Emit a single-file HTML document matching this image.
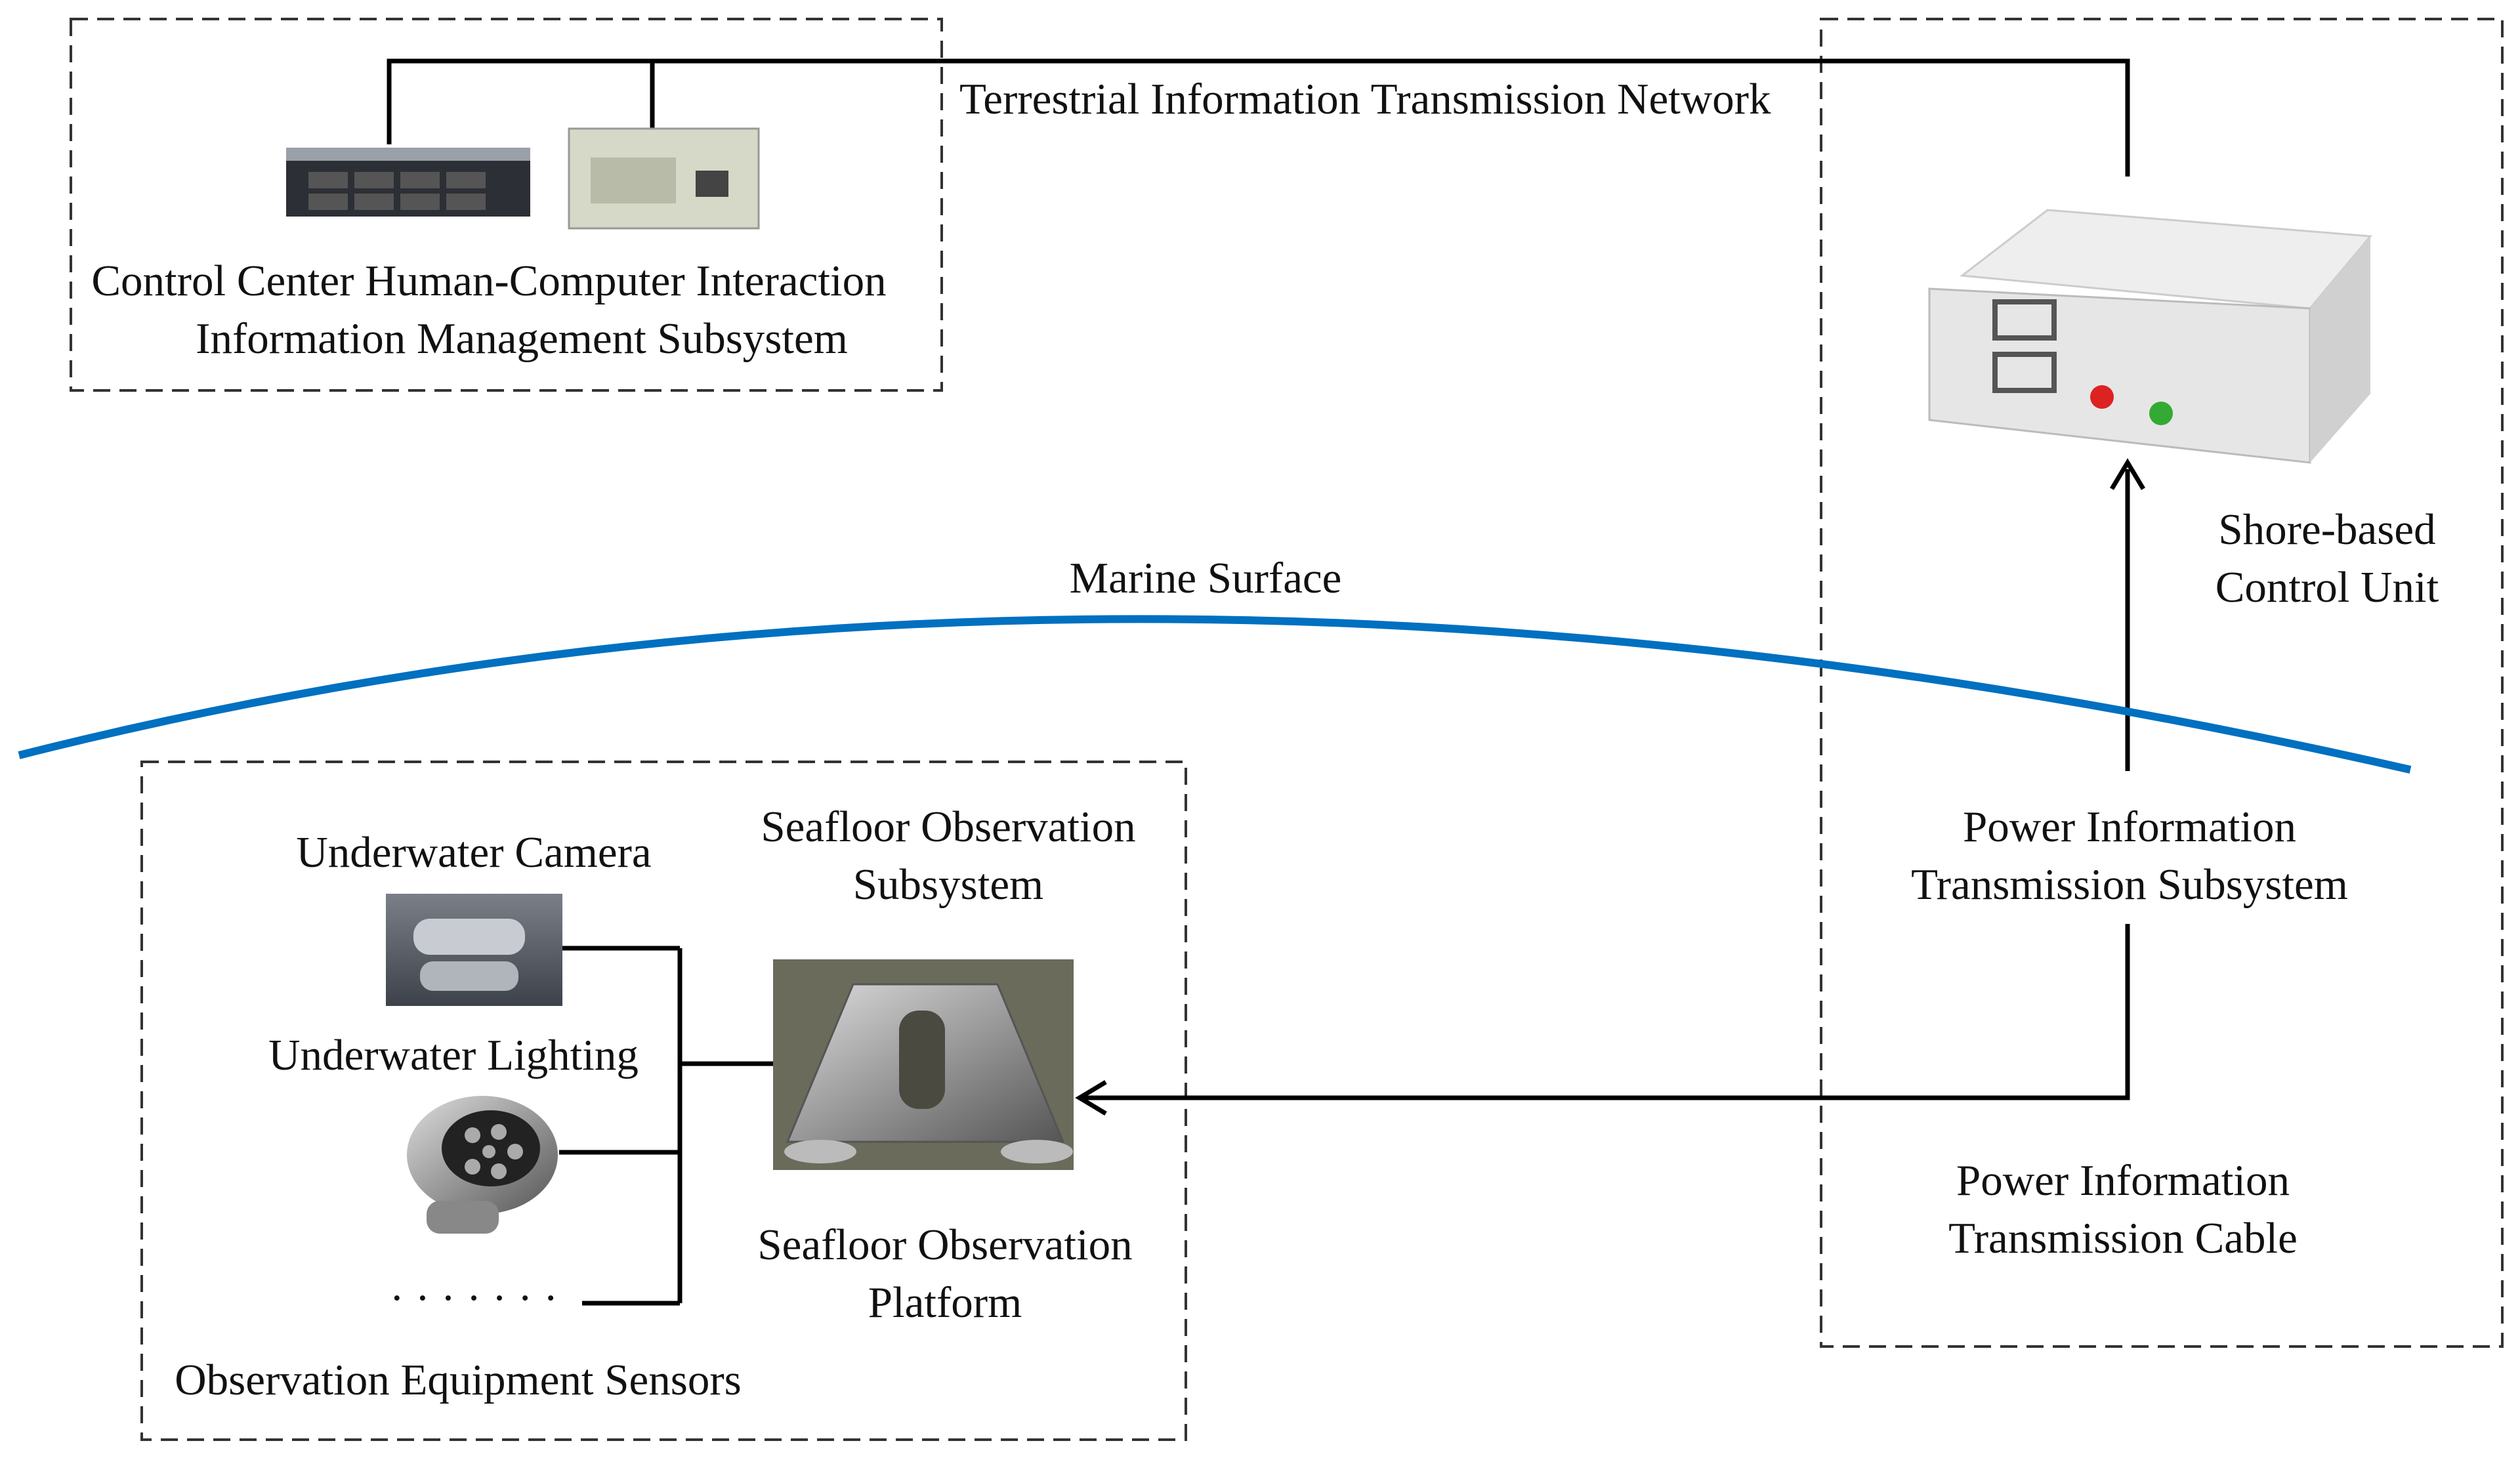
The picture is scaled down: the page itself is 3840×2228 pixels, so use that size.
<!DOCTYPE html>
<html><head><meta charset="utf-8"><style>
html,body{margin:0;padding:0;background:#fff;}
svg{display:block;}
text{font-family:"Liberation Serif",serif;font-size:67px;fill:#111;}
</style></head><body>
<svg width="3840" height="2228" viewBox="0 0 3840 2228" xmlns="http://www.w3.org/2000/svg">
<defs>
<linearGradient id="steel" x1="0" y1="0" x2="1" y2="1"><stop offset="0" stop-color="#ddd"/><stop offset="0.5" stop-color="#999"/><stop offset="1" stop-color="#555"/></linearGradient>
<linearGradient id="cam" x1="0" y1="0" x2="0" y2="1"><stop offset="0" stop-color="#7a7f88"/><stop offset="1" stop-color="#3d424a"/></linearGradient>
</defs>
<g fill="none" stroke="#333" stroke-width="4" stroke-dasharray="26,14">
<rect x="108" y="29" width="1327" height="566"/>
<rect x="2775" y="29" width="1038" height="2023"/>
<rect x="216" y="1161" width="1591" height="1033"/>
</g>
<g stroke="#000" stroke-width="7" fill="none">
<polyline points="593,220 593,93 3242,93 3242,269"/>
<line x1="994" y1="93" x2="994" y2="196"/>
<line x1="3242" y1="1175" x2="3242" y2="715"/>
<polyline points="3242,1408 3242,1673 1650,1673"/>
<line x1="1036" y1="1445" x2="1036" y2="1986"/>
<line x1="857" y1="1445" x2="1036" y2="1445"/>
<line x1="852" y1="1756" x2="1036" y2="1756"/>
<line x1="887" y1="1986" x2="1036" y2="1986"/>
<line x1="1036" y1="1621" x2="1178" y2="1621"/>
<polyline points="3218,745 3242,705 3266,745"/>
<polyline points="1685,1649 1645,1673 1685,1697"/>
</g>
<path d="M29,1151 Q1714,725 3673,1173" fill="none" stroke="#0070c0" stroke-width="12"/>
<rect x="436" y="240" width="372" height="90" fill="#2c2f35"/>
<rect x="436" y="225" width="372" height="20" fill="#9aa0a8"/>
<g fill="#555"><rect x="470" y="262" width="60" height="25"/><rect x="540" y="262" width="60" height="25"/><rect x="610" y="262" width="60" height="25"/><rect x="680" y="262" width="60" height="25"/><rect x="470" y="295" width="60" height="25"/><rect x="540" y="295" width="60" height="25"/><rect x="610" y="295" width="60" height="25"/><rect x="680" y="295" width="60" height="25"/></g>
<rect x="867" y="196" width="289" height="152" fill="#d6d8c8" stroke="#999" stroke-width="3"/>
<rect x="900" y="240" width="130" height="70" fill="#b8bba8"/>
<rect x="1060" y="260" width="50" height="40" fill="#444"/>
<polygon points="2990,420 3120,320 3612,360 3520,470" fill="#eee" stroke="#ccc" stroke-width="3"/>
<polygon points="2940,440 3520,470 3520,705 2940,640" fill="#e6e6e6" stroke="#bbb" stroke-width="3"/>
<polygon points="3520,470 3612,360 3612,600 3520,705" fill="#d0d0d0"/>
<rect x="3040" y="460" width="90" height="55" fill="none" stroke="#555" stroke-width="8"/>
<rect x="3040" y="540" width="90" height="55" fill="none" stroke="#555" stroke-width="8"/>
<circle cx="3203" cy="605" r="18" fill="#d22"/>
<circle cx="3293" cy="630" r="18" fill="#3a3"/>
<rect x="588" y="1362" width="269" height="171" fill="url(#cam)"/>
<rect x="630" y="1400" width="170" height="55" rx="25" fill="#c8ccd2"/>
<rect x="640" y="1465" width="150" height="45" rx="20" fill="#b0b5bc"/>
<ellipse cx="735" cy="1760" rx="115" ry="90" fill="url(#steel)"/>
<ellipse cx="748" cy="1750" rx="75" ry="58" fill="#222"/>
<g fill="#aaa"><circle cx="720" cy="1730" r="12"/><circle cx="760" cy="1725" r="12"/><circle cx="785" cy="1755" r="12"/><circle cx="760" cy="1785" r="12"/><circle cx="720" cy="1778" r="12"/><circle cx="745" cy="1755" r="10"/></g>
<rect x="650" y="1830" width="110" height="50" rx="20" fill="#888"/>
<rect x="1178" y="1462" width="458" height="321" fill="#6b6b5c"/>
<polygon points="1200,1740 1300,1500 1520,1500 1620,1740" fill="url(#steel)" stroke="#555" stroke-width="3"/>
<rect x="1370" y="1540" width="70" height="150" rx="30" fill="#4a4a40"/>
<ellipse cx="1250" cy="1755" rx="55" ry="18" fill="#bbb"/>
<ellipse cx="1580" cy="1755" rx="55" ry="18" fill="#bbb"/>
<text x="1462" y="173">Terrestrial Information Transmission Network</text>
<text x="745" y="450" text-anchor="middle">Control Center Human-Computer Interaction</text>
<text x="795" y="538" text-anchor="middle">Information Management Subsystem</text>
<text x="3546" y="829" text-anchor="middle">Shore-based</text>
<text x="3546" y="917" text-anchor="middle">Control Unit</text>
<text x="1837" y="903" text-anchor="middle">Marine Surface</text>
<text x="3245" y="1282" text-anchor="middle">Power Information</text>
<text x="3245" y="1370" text-anchor="middle">Transmission Subsystem</text>
<text x="3235" y="1821" text-anchor="middle">Power Information</text>
<text x="3235" y="1909" text-anchor="middle">Transmission Cable</text>
<text x="1445" y="1282" text-anchor="middle">Seafloor Observation</text>
<text x="1445" y="1370" text-anchor="middle">Subsystem</text>
<text x="1440" y="1919" text-anchor="middle">Seafloor Observation</text>
<text x="1440" y="2007" text-anchor="middle">Platform</text>
<text x="722" y="1321" text-anchor="middle">Underwater Camera</text>
<text x="691" y="1630" text-anchor="middle">Underwater Lighting</text>
<text x="722" y="2000" text-anchor="middle">· · · · · · ·</text>
<text x="698" y="2125" text-anchor="middle">Observation Equipment Sensors</text>
</svg>
</body></html>
